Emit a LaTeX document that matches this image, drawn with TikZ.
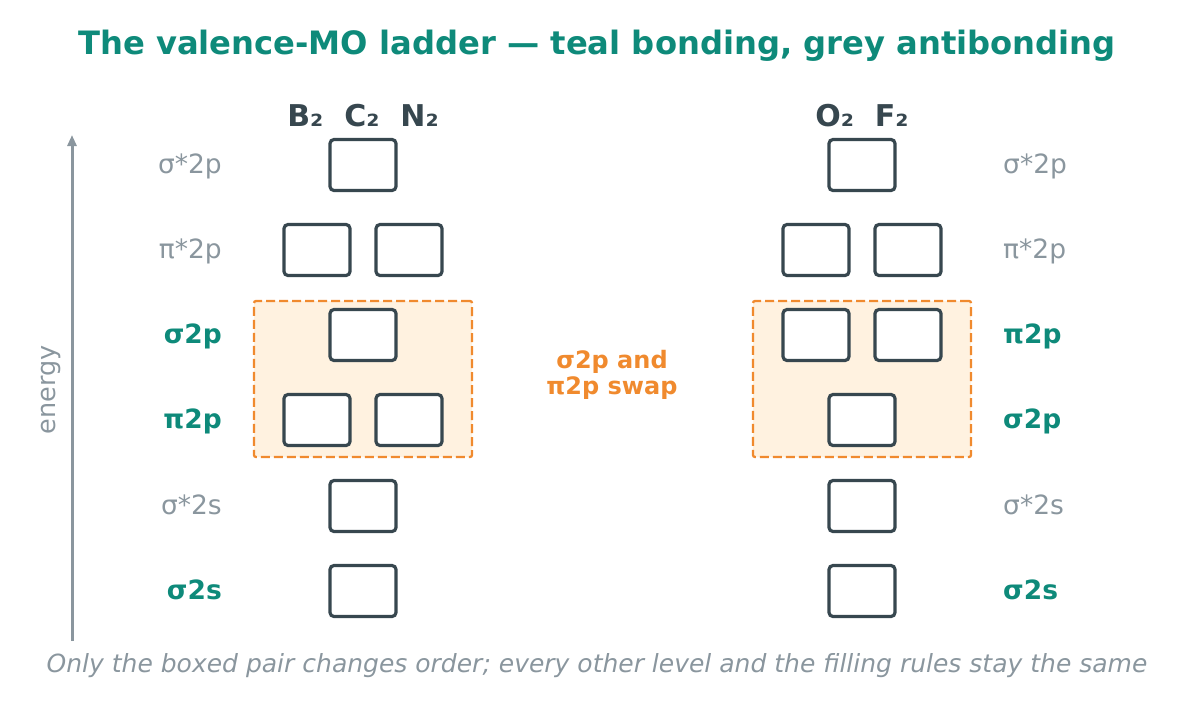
\documentclass[tikz,border=0pt]{standalone}
\usepackage{fontspec}
\setmainfont{DejaVu Sans}
\usetikzlibrary{arrows.meta}
\definecolor{teal}{HTML}{0E8A7A}
\definecolor{slate}{HTML}{37474F}
\definecolor{mist}{HTML}{8A969E}
\definecolor{amber}{HTML}{F08A2E}
\definecolor{cream}{HTML}{FFF2E0}
\begin{document}
\begin{tikzpicture}[
  x=1pt, y=-1pt,
  orb/.style={rectangle, draw=slate, line width=3.2pt, rounded corners=4pt, fill=white, minimum width=66pt, minimum height=51pt},
  swapbox/.style={rectangle, draw=amber, line width=2.3pt, dash pattern=on 9pt off 4pt, rounded corners=2pt, fill=cream, minimum width=218pt, minimum height=156pt},
  bond/.style={font=\fontsize{26.5}{30}\selectfont\bfseries, text=teal, inner sep=0pt, text height=20pt, text depth=6pt},
  anti/.style={font=\fontsize{26.5}{30}\selectfont, text=mist, inner sep=0pt, text height=20pt, text depth=6pt},
  mol/.style={font=\fontsize{30}{36}\selectfont\bfseries, text=slate}
]
\useasboundingbox (0,0) rectangle (1194,716);

\node[font=\fontsize{32.2}{38}\selectfont\bfseries, text=teal] (title) at (597,46) {The valence-MO ladder — teal bonding, grey antibonding};

% energy axis
\coordinate (ebot) at (72,641);
\coordinate (etop) at (72,135);
\draw[-{Triangle[length=11pt,width=9pt]}, draw=mist, fill=mist, line width=3pt] (ebot) -- (etop);
\node[rotate=90, font=\fontsize{25.5}{30}\selectfont, text=mist] (energy) at (51,390) {energy};

% swapped pair
\node[swapbox] (swapL) at (363,379) {};
\node[swapbox] (swapR) at (862,379) {};
\node[font=\fontsize{24}{25.5}\selectfont\bfseries, text=amber, align=center] (swapnote) at (612,375) {σ2p and\\π2p swap};

% B2 C2 N2
\node[mol] (hdL) at (363,116) {B₂\hspace{0.7em}C₂\hspace{0.7em}N₂};
\node[orb] (Ls2pa) at (363,165) {};
\node[orb] (Lp2pa) at (317,250) {};
\node[orb] (Lp2pb) at (409,250) {};
\node[orb] (Ls2p) at (363,335) {};
\node[orb] (Lp2p) at (317,420) {};
\node[orb] (Lp2pc) at (409,420) {};
\node[orb] (Ls2sa) at (363,506) {};
\node[orb] (Ls2s) at (363,591) {};

\node[anti, anchor=east] (lbLs2pa) at (222,166) {σ*2p};
\node[anti, anchor=east] (lbLp2pa) at (222,251) {π*2p};
\node[bond, anchor=east] (lbLs2p) at (222,336) {σ2p};
\node[bond, anchor=east] (lbLp2p) at (222,421) {π2p};
\node[anti, anchor=east] (lbLs2sa) at (222,507) {σ*2s};
\node[bond, anchor=east] (lbLs2s) at (222,592) {σ2s};

% O2 F2
\node[mol] (hdR) at (862,116) {O₂\hspace{0.7em}F₂};
\node[orb] (Rs2pa) at (862,165) {};
\node[orb] (Rp2pa) at (816,250) {};
\node[orb] (Rp2pb) at (908,250) {};
\node[orb] (Rp2p) at (816,335) {};
\node[orb] (Rp2pc) at (908,335) {};
\node[orb] (Rs2p) at (862,420) {};
\node[orb] (Rs2sa) at (862,506) {};
\node[orb] (Rs2s) at (862,591) {};

\node[anti, anchor=west] (lbRs2pa) at (1003,166) {σ*2p};
\node[anti, anchor=west] (lbRp2pa) at (1003,251) {π*2p};
\node[bond, anchor=west] (lbRp2p) at (1003,336) {π2p};
\node[bond, anchor=west] (lbRs2p) at (1003,421) {σ2p};
\node[anti, anchor=west] (lbRs2sa) at (1003,507) {σ*2s};
\node[bond, anchor=west] (lbRs2s) at (1003,592) {σ2s};

\node[font=\fontsize{25}{30}\selectfont\itshape, text=mist] (foot) at (597,666) {Only the boxed pair changes order; every other level and the filling rules stay the same};
\end{tikzpicture}
\end{document}
